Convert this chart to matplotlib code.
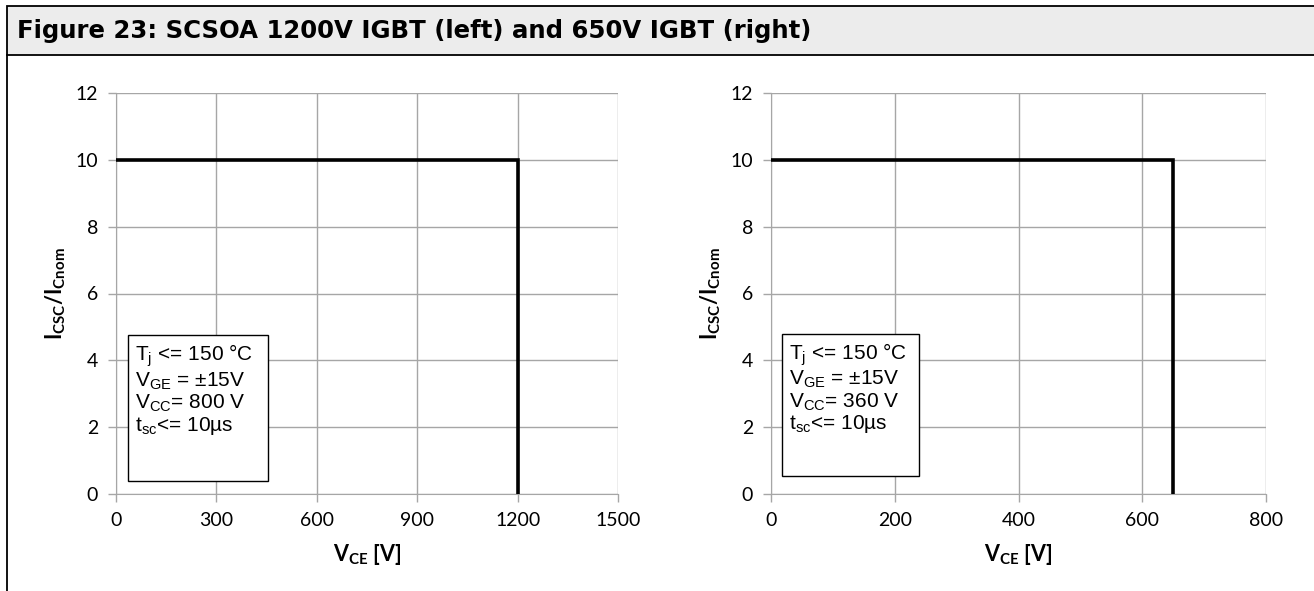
import matplotlib
matplotlib.use('Agg')
import matplotlib.pyplot as plt
from matplotlib.patches import Rectangle
from matplotlib.lines import Line2D

# SCSOA limit curves
vce_1200 = [0, 1200, 1200]
icsc_1200 = [10, 10, 0]
vce_650 = [0, 650, 650]
icsc_650 = [10, 10, 0]

xticks_1200 = [0, 300, 600, 900, 1200, 1500]
xticks_650 = [0, 200, 400, 600, 800]
yticks = [0, 2, 4, 6, 8, 10, 12]

title = 'Figure 23: SCSOA 1200V IGBT (left) and 650V IGBT (right)'
notes_1200 = ['T$_\\mathregular{j}$ <= 150 °C', 'V$_\\mathregular{GE}$ = ±15V',
              'V$_\\mathregular{CC}$= 800 V', 't$_\\mathregular{sc}$<= 10µs']
notes_650 = ['T$_\\mathregular{j}$ <= 150 °C', 'V$_\\mathregular{GE}$ = ±15V',
             'V$_\\mathregular{CC}$= 360 V', 't$_\\mathregular{sc}$<= 10µs']

plt.rcParams['mathtext.fontset'] = 'custom'
plt.rcParams['mathtext.rm'] = 'Liberation Sans'
plt.rcParams['mathtext.bf'] = 'Lato:bold'

grid_col = '#a6a6a6'

fig = plt.figure(figsize=(13.14, 5.91), dpi=100)

# header band and page border
fig.patches.append(Rectangle((7 / 1314, 1 - 55 / 591), 1, 49 / 591, transform=fig.transFigure,
                             facecolor='#ececec', edgecolor='black', linewidth=1.3))
fig.lines.append(Line2D([7 / 1314, 7 / 1314], [0, 1 - 55 / 591], transform=fig.transFigure,
                        color='black', linewidth=1.3))
fig.text(17 / 1314, 1 - 31 / 591, title, fontsize=17.6, fontweight='bold',
         family='DejaVu Sans', va='center', ha='left')


def draw_panel(rect, xs, ys, xticks, xmax, notes, box):
    ax = fig.add_axes(rect)
    ax.plot(xs, ys, color='black', linewidth=2.6, solid_joinstyle='miter', zorder=3)
    ax.set_xlim(0, xmax)
    ax.set_ylim(0, 12)
    ax.set_xticks(xticks)
    ax.set_yticks(yticks)
    ax.grid(True, color=grid_col, linewidth=1.0)
    ax.set_axisbelow(True)
    for s in ax.spines.values():
        s.set_visible(False)
    ax.spines['left'].set_visible(True)
    ax.spines['bottom'].set_visible(True)
    ax.spines['left'].set_color(grid_col)
    ax.spines['bottom'].set_color(grid_col)
    ax.tick_params(color=grid_col, length=6, width=1.0, labelsize=14, pad=7)
    for lab in ax.get_xticklabels() + ax.get_yticklabels():
        lab.set_family('Lato')
    ax.set_ylabel(r'$\mathbf{I_{CSC}/I_{Cnom}}$', fontsize=15.5, labelpad=5)
    ax.set_xlabel(r'$\mathbf{V_{CE}}$ [V]', fontsize=15.5, fontweight='bold', family='Lato', labelpad=9)
    x0, y0, x1, y1 = box
    ax.add_patch(Rectangle((x0, y0), x1 - x0, y1 - y0, facecolor='white',
                           edgecolor='black', linewidth=1.0, zorder=4))
    ax.text(x0 + 0.013 * xmax, y1 - 0.22, '\n'.join(notes), fontsize=15,
            family='Liberation Sans', va='top', ha='left', linespacing=1.05, zorder=5)
    return ax


draw_panel([116 / 1314, 97 / 591, 502 / 1314, 401 / 591], vce_1200, icsc_1200,
           xticks_1200, 1500, notes_1200, (36, 0.4, 454, 4.75))
draw_panel([771 / 1314, 97 / 591, 495 / 1314, 401 / 591], vce_650, icsc_650,
           xticks_650, 800, notes_650, (18, 0.55, 239, 4.8))

fig.savefig('out.png', dpi=100)
